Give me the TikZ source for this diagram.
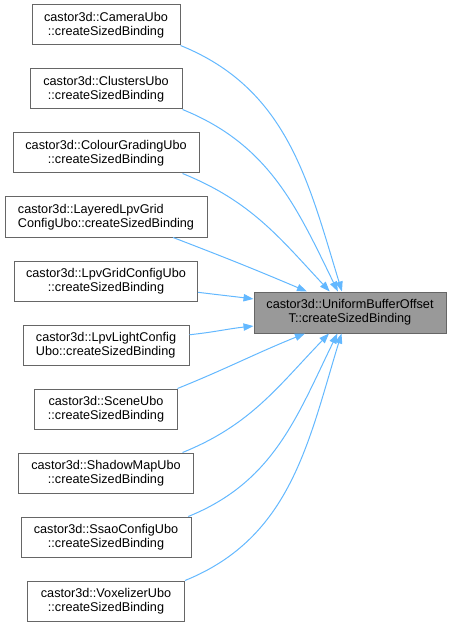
\documentclass[tikz,border=0pt]{standalone}
\usepackage{fontspec}
\setmainfont{Liberation Sans}
\usetikzlibrary{positioning,arrows.meta}

\definecolor{nodeborder}{HTML}{666666}
\definecolor{nodegrey}{HTML}{999999}
\definecolor{edgeblue}{HTML}{63B8FF}

\tikzset{
  fn/.style={draw=nodeborder, fill=white, line width=0.75pt, minimum height=30pt,
    inner sep=2pt, align=center, font=\fontsize{9.5pt}{10.3pt}\selectfont},
  fncur/.style={fn, fill=nodegrey},
  call/.style={draw=edgeblue, line width=0.75pt,
    -{Triangle[length=7.5pt,width=5.5pt,fill=edgeblue]}}
}

\begin{document}
\begin{tikzpicture}[x=0.75pt, y=-0.75pt, node distance=17.25pt]
  \useasboundingbox (0,0) rectangle (451,627);

  \node[fn, minimum width=111pt] (camUbo) at (106,25) {castor3d::CameraUbo\\::createSizedBinding};
  \node[fn, minimum width=114pt] (clustersUbo) [below=of camUbo] {castor3d::ClustersUbo\\::createSizedBinding};
  \node[fn, minimum width=139.5pt] (colourUbo) [below=of clustersUbo] {castor3d::ColourGradingUbo\\::createSizedBinding};
  \node[fn, minimum width=151.5pt, align=left] (layeredUbo) [below=of colourUbo] {castor3d::LayeredLpvGrid\\ConfigUbo::createSizedBinding};
  \node[fn, minimum width=137.25pt] (lpvGridUbo) [below=of layeredUbo] {castor3d::LpvGridConfigUbo\\::createSizedBinding};
  \node[fn, minimum width=124.5pt, align=left] (lpvLightUbo) [below=of lpvGridUbo] {castor3d::LpvLightConfig\\Ubo::createSizedBinding};
  \node[fn, minimum width=107.25pt] (sceneUbo) [below=of lpvLightUbo] {castor3d::SceneUbo\\::createSizedBinding};
  \node[fn, minimum width=131.25pt] (shadowUbo) [below=of sceneUbo] {castor3d::ShadowMapUbo\\::createSizedBinding};
  \node[fn, minimum width=127.5pt] (ssaoUbo) [below=of shadowUbo] {castor3d::SsaoConfigUbo\\::createSizedBinding};
  \node[fn, minimum width=117.75pt] (voxelUbo) [below=of ssaoUbo] {castor3d::VoxelizerUbo\\::createSizedBinding};

  \node[fncur, minimum width=144pt, minimum height=30.75pt] (bufOffset) at (350,312.5) {castor3d::UniformBufferOffset\\T::createSizedBinding};

  % callers above the target
  \path[call] (camUbo.south east) to[out=-22, in=107] (bufOffset.111);
  \path[call] (clustersUbo.south east) to[out=-22, in=116] (bufOffset.120);
  \path[call] (colourUbo.-15) to[out=-22, in=133] (bufOffset.134);
  \path[call] (layeredUbo.-17) to[out=-21, in=157] (bufOffset.154);
  \path[call] (lpvGridUbo.-7) to[out=-7, in=173] (bufOffset.172.6);
  % callers below the target
  \path[call] (lpvLightUbo.7.5) to[out=6, in=186] (bufOffset.188.6);
  \path[call] (sceneUbo.16.5) to[out=22, in=202] (bufOffset.205.5);
  \path[call] (shadowUbo.15) to[out=22, in=226] (bufOffset.225.7);
  \path[call] (ssaoUbo.14) to[out=22, in=244] (bufOffset.239.7);
  \path[call] (voxelUbo.north east) to[out=22, in=253] (bufOffset.248.7);
\end{tikzpicture}
\end{document}
